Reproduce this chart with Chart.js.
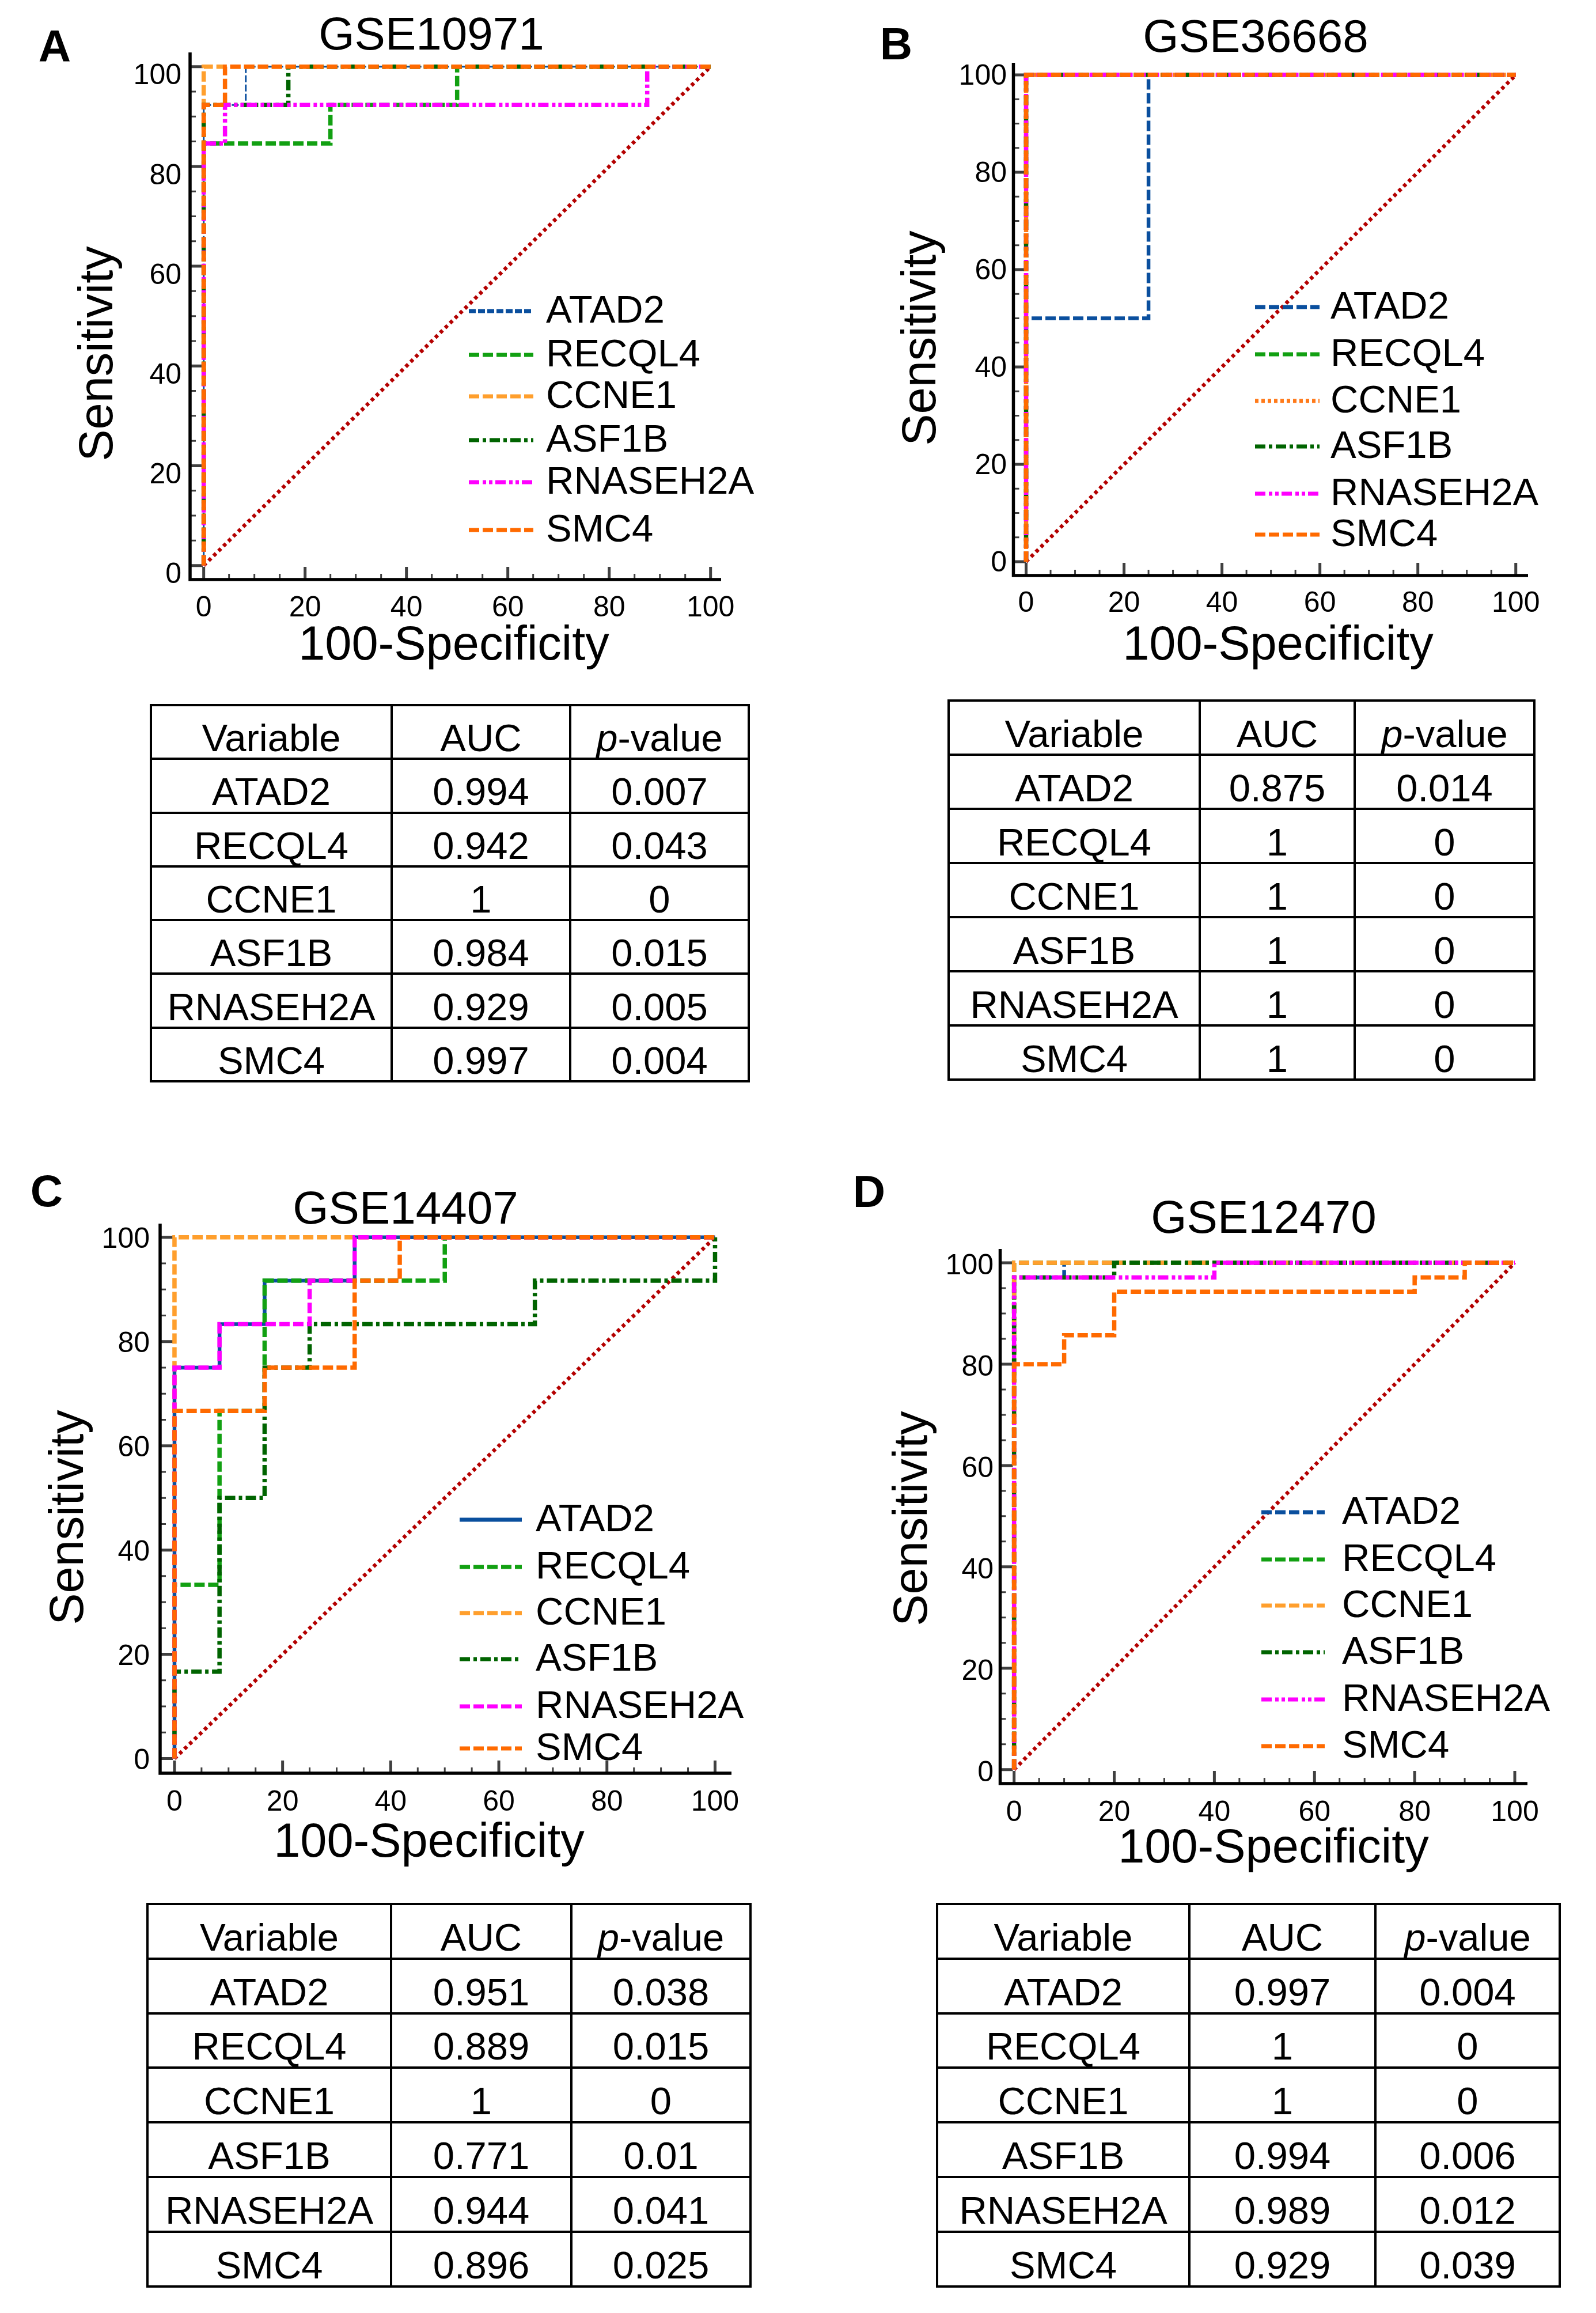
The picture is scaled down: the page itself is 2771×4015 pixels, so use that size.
<!DOCTYPE html>
<html lang="en">
<head>
<meta charset="UTF-8">
<title>ROC curves</title>
<script src="https://cdn.jsdelivr.net/npm/chart.js@4.4.1/dist/chart.umd.min.js"></script>
<style>
  body { margin: 0; width: 2771px; height: 4015px; background: #fff; position: relative;
         font-family: "Liberation Sans", Arial, sans-serif; }
  canvas { position: absolute; }
  table { position: absolute; border-collapse: collapse; table-layout: fixed; font-size: 67px; color: #000; }
  td { border: 4.5px solid #000; text-align: center; vertical-align: middle; padding: 20px 0 0 0;
       line-height: 1; white-space: nowrap; overflow: visible; }
</style>
</head>
<body>
<canvas id="cA" width="1385" height="1190" style="left:0px;top:0px"></canvas>
<canvas id="cB" width="1386" height="1190" style="left:1385px;top:0px"></canvas>
<canvas id="cC" width="1385" height="1300" style="left:0px;top:1990px"></canvas>
<canvas id="cD" width="1386" height="1300" style="left:1385px;top:1990px"></canvas>
<script>
// ---- data ----
const genes = ["ATAD2", "RECQL4", "CCNE1", "ASF1B", "RNASEH2A", "SMC4"];
const axisTicks = [0, 20, 40, 60, 80, 100];
const tableHeader = ["Variable", "AUC", "p-value"];
const reference = [[0, 0], [100, 100]];

// ROC points [100-specificity, sensitivity], one list per gene in the order above
const rocA = [
  [[0, 0], [0, 92.3], [8.3, 92.3], [8.3, 100], [100, 100]],
  [[0, 0], [0, 84.6], [25, 84.6], [25, 92.3], [50, 92.3], [50, 100], [100, 100]],
  [[0, 0], [0, 100], [100, 100]],
  [[0, 0], [0, 92.3], [16.7, 92.3], [16.7, 100], [100, 100]],
  [[0, 0], [0, 84.6], [4.2, 84.6], [4.2, 92.3], [87.5, 92.3], [87.5, 100], [100, 100]],
  [[0, 0], [0, 92.3], [4.2, 92.3], [4.2, 100], [100, 100]]
];
const rocB = [
  [[0, 0], [0, 50], [25, 50], [25, 100], [100, 100]],
  [[0, 0], [0, 100], [100, 100]],
  [[0, 0], [0, 100], [100, 100]],
  [[0, 0], [0, 100], [100, 100]],
  [[0, 0], [0, 100], [100, 100]],
  [[0, 0], [0, 100], [100, 100]]
];
const rocC = [
  [[0, 0], [0, 75], [8.33, 75], [8.33, 83.33], [16.67, 83.33], [16.67, 91.67], [33.33, 91.67], [33.33, 100], [100, 100]],
  [[0, 0], [0, 33.33], [8.33, 33.33], [8.33, 66.67], [16.67, 66.67], [16.67, 91.67], [50, 91.67], [50, 100], [100, 100]],
  [[0, 0], [0, 100], [100, 100]],
  [[0, 0], [0, 16.67], [8.33, 16.67], [8.33, 50], [16.67, 50], [16.67, 75], [25, 75], [25, 83.33], [66.67, 83.33], [66.67, 91.67], [100, 91.67], [100, 100]],
  [[0, 0], [0, 75], [8.33, 75], [8.33, 83.33], [25, 83.33], [25, 91.67], [33.33, 91.67], [33.33, 100], [100, 100]],
  [[0, 0], [0, 66.67], [16.67, 66.67], [16.67, 75], [33.33, 75], [33.33, 91.67], [41.67, 91.67], [41.67, 100], [100, 100]]
];
const rocD = [
  [[0, 0], [0, 97.1], [10, 97.1], [10, 100], [100, 100]],
  [[0, 0], [0, 100], [100, 100]],
  [[0, 0], [0, 100], [100, 100]],
  [[0, 0], [0, 97.1], [20, 97.1], [20, 100], [100, 100]],
  [[0, 0], [0, 97.1], [40, 97.1], [40, 100], [100, 100]],
  [[0, 0], [0, 80], [10, 80], [10, 85.7], [20, 85.7], [20, 94.3], [80, 94.3], [80, 97.1], [90, 97.1], [90, 100], [100, 100]]
];

const aucA = ["0.994", "0.942", "1", "0.984", "0.929", "0.997"];
const pA   = ["0.007", "0.043", "0", "0.015", "0.005", "0.004"];
const aucB = ["0.875", "1", "1", "1", "1", "1"];
const pB   = ["0.014", "0", "0", "0", "0", "0"];
const aucC = ["0.951", "0.889", "1", "0.771", "0.944", "0.896"];
const pC   = ["0.038", "0.015", "0", "0.01", "0.041", "0.025"];
const aucD = ["0.997", "1", "1", "0.994", "0.989", "0.929"];
const pD   = ["0.004", "0", "0", "0.006", "0.012", "0.039"];

// ---- styles / layout ----
const FONT = '"Liberation Sans", Arial, sans-serif';
const DASH = [18, 6], DASHDOT = [18, 6, 6, 6], DASHDOTDOT = [18, 6, 6, 5, 6, 5], DOT = [6, 5];
const baseStyle = {
  ATAD2:    { color: "#0a4f9e", dash: DASH, width: 6.5 },
  RECQL4:   { color: "#12a012", dash: DASH, width: 7.5 },
  CCNE1:    { color: "#ff9f2d", dash: DASH, width: 7.5 },
  ASF1B:    { color: "#006400", dash: DASHDOT, width: 7.5 },
  RNASEH2A: { color: "#ff00ff", dash: DASHDOTDOT, width: 7.5 },
  SMC4:     { color: "#ff6a00", dash: DASH, width: 7.5 }
};

const panels = [
  { id: "cA", letter: "A", title: "GSE10971", roc: rocA, auc: aucA, p: pA,
    area: [330, 91, 1252, 1006], xr: [-2.69, 102.08], yr: [-2.81, 102.85], yPad: 15, xPad: 20, yOff: 17,
    pos: { letter: [95, 85], title: [749, 64], xt: [788, 1122], yt: [172, 614] },
    legend: { x1: 814, x2: 926, tx: 948, rows: [540, 616, 688, 764, 837, 920] },
    style: { ATAD2: { width: 3, dash: [12, 4] } },
    table: { left: 260, top: 1222, cols: [418, 310, 310], rowH: 93.3 } },
  { id: "cB", letter: "B", title: "GSE36668", roc: rocB, auc: aucB, p: pB,
    area: [374.5, 109, 1268, 999], xr: [-2.59, 102.5], yr: [-2.84, 102.49], yPad: 11.5, xPad: 19, yOff: 3,
    pos: { letter: [171, 81], title: [795, 68], xt: [834, 1122], yt: [216, 587] },
    legend: { x1: 794, x2: 906, tx: 925, rows: [533, 615, 696, 775, 857, 928] },
    style: { CCNE1: { color: "#ff7a1a", dash: DOT } },
    table: { left: 1645, top: 1214, cols: [436, 269, 312], rowH: 94 } },
  { id: "cC", letter: "C", title: "GSE14407", roc: rocC, auc: aucC, p: pC,
    area: [278, 134, 1270, 1088], xr: [-2.66, 103.04], yr: [-2.81, 102.62], yPad: 18, xPad: 21, yOff: 5,
    pos: { letter: [81, 82], title: [704, 112], xt: [745, 1210], yt: [121, 644] },
    legend: { x1: 798, x2: 906, tx: 930, rows: [648, 730, 810, 890, 972, 1045] },
    style: { ATAD2: { dash: [] }, RNASEH2A: { dash: DASH } },
    table: { left: 254, top: 3303, cols: [423, 313, 311], rowH: 94.8 } },
  { id: "cD", letter: "D", title: "GSE12470", roc: rocD, auc: aucD, p: pD,
    area: [351.5, 178, 1267, 1106], xr: [-2.78, 102.53], yr: [-2.76, 102.73], yPad: 11.5, xPad: 21, yOff: 6,
    pos: { letter: [124, 83], title: [809, 128], xt: [826, 1220], yt: [201, 646] },
    legend: { x1: 805, x2: 915, tx: 945, rows: [635, 717, 797, 878, 960, 1041] },
    style: {},
    table: { left: 1625, top: 3303, cols: [438, 323, 320], rowH: 94.8 } }
];

function makeChart(P) {
  const canvas = document.getElementById(P.id);
  const W = canvas.width, H = canvas.height;
  const [L, T, R, B] = P.area;

  const datasets = genes.map((g, i) => {
    const st = Object.assign({}, baseStyle[g], P.style[g] || {});
    return {
      label: g,
      data: P.roc[i].map(([x, y]) => ({ x, y })),
      borderColor: st.color, borderDash: st.dash, borderWidth: st.width,
      borderCapStyle: "butt", pointRadius: 0, fill: false, tension: 0,
      order: 10 - i
    };
  });
  datasets.push({
    label: "reference", data: reference.map(([x, y]) => ({ x, y })),
    borderColor: "#b40000", borderDash: [6, 6], borderWidth: 6.5, pointRadius: 0, fill: false, order: 20
  });

  // axis lines with inward major/minor ticks
  const frame = {
    id: "frame",
    beforeDatasetsDraw(chart) {
      const ctx = chart.ctx, xs = chart.scales.x, ys = chart.scales.y;
      ctx.save();
      ctx.strokeStyle = "#404040";
      for (let v = 0; v <= 100; v += 5) {
        const major = v % 20 === 0;
        ctx.lineWidth = major ? 5 : 3;
        const len = major ? 22 : 10;
        const px = xs.getPixelForValue(v), py = ys.getPixelForValue(v);
        ctx.beginPath();
        ctx.moveTo(px, B); ctx.lineTo(px, B - len);
        ctx.moveTo(L, py); ctx.lineTo(L + len, py);
        ctx.stroke();
      }
      ctx.restore();
    },
    afterDatasetsDraw(chart) {
      const ctx = chart.ctx;
      ctx.save();
      ctx.strokeStyle = "#000";
      ctx.lineWidth = 5.5;
      ctx.beginPath();
      ctx.moveTo(L, T); ctx.lineTo(L, B + 2.75);
      ctx.moveTo(L - 2.75, B); ctx.lineTo(R, B);
      ctx.stroke();
      ctx.restore();
    }
  };

  // titles, axis titles, panel letter, legend
  const texts = {
    id: "texts",
    afterDraw(chart) {
      const ctx = chart.ctx;
      ctx.save();
      ctx.fillStyle = "#000";
      ctx.textAlign = "center";
      ctx.textBaseline = "middle";
      ctx.font = "bold 78px " + FONT;
      ctx.fillText(P.letter, P.pos.letter[0], P.pos.letter[1]);
      ctx.font = "80px " + FONT;
      ctx.fillText(P.title, P.pos.title[0], P.pos.title[1]);
      ctx.font = "83px " + FONT;
      ctx.fillText("100-Specificity", P.pos.xt[0], P.pos.xt[1]);
      ctx.save();
      ctx.translate(P.pos.yt[0], P.pos.yt[1]);
      ctx.rotate(-Math.PI / 2);
      ctx.fillText("Sensitivity", 0, 0);
      ctx.restore();

      const lg = P.legend;
      ctx.textAlign = "left";
      ctx.font = "67px " + FONT;
      chart.data.datasets.forEach((ds, i) => {
        if (ds.label === "reference") return;
        const y = lg.rows[i];
        ctx.save();
        ctx.strokeStyle = ds.borderColor;
        ctx.lineWidth = 7;
        ctx.setLineDash(ds.borderDash);
        ctx.beginPath();
        ctx.moveTo(lg.x1, y); ctx.lineTo(lg.x2, y);
        ctx.stroke();
        ctx.restore();
        ctx.fillText(ds.label, lg.tx, y + 2);
      });
      ctx.restore();
    }
  };

  new Chart(canvas, {
    type: "line",
    data: { datasets },
    options: {
      responsive: false,
      animation: false,
      devicePixelRatio: 1,
      layout: { padding: { left: 0, top: T, right: W - R, bottom: 0 } },
      plugins: { legend: { display: false }, tooltip: { enabled: false } },
      scales: {
        x: {
          type: "linear", min: P.xr[0], max: P.xr[1],
          grid: { display: false, drawTicks: false }, border: { display: false },
          ticks: { font: { size: 50, family: FONT }, color: "#000", padding: P.xPad, maxRotation: 0, autoSkip: false },
          afterBuildTicks: s => { s.ticks = axisTicks.map(v => ({ value: v })); },
          afterFit: s => { s.height = H - B; }
        },
        y: {
          type: "linear", min: P.yr[0], max: P.yr[1],
          grid: { display: false, drawTicks: false }, border: { display: false },
          ticks: { font: { size: 50, family: FONT }, color: "#000", padding: P.yPad, labelOffset: P.yOff, autoSkip: false },
          afterBuildTicks: s => { s.ticks = axisTicks.map(v => ({ value: v })); },
          afterFit: s => { s.width = L; }
        }
      }
    },
    plugins: [frame, texts]
  });
}

function makeTable(P) {
  const t = P.table;
  const tbl = document.createElement("table");
  const total = t.cols.reduce((a, b) => a + b, 0);
  tbl.style.left = t.left + "px";
  tbl.style.top = t.top + "px";
  tbl.style.width = total + "px";
  tbl.style.height = (t.rowH * 7) + "px";
  const cg = document.createElement("colgroup");
  t.cols.forEach(w => { const c = document.createElement("col"); c.style.width = w + "px"; cg.appendChild(c); });
  tbl.appendChild(cg);
  const rows = [tableHeader].concat(genes.map((g, i) => [g, P.auc[i], P.p[i]]));
  rows.forEach((r, ri) => {
    const tr = document.createElement("tr");
    tr.style.height = t.rowH + "px";
    r.forEach(cell => {
      const td = document.createElement("td");
      if (ri === 0 && cell === "p-value") {
        td.innerHTML = "<i>p</i>-value";
      } else {
        td.textContent = cell;
      }
      tr.appendChild(td);
    });
    tbl.appendChild(tr);
  });
  document.body.appendChild(tbl);
}

panels.forEach(P => { makeChart(P); makeTable(P); });
</script>
</body>
</html>
